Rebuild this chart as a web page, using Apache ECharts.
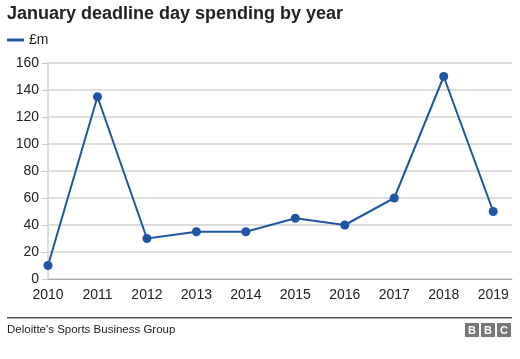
<!DOCTYPE html>
<html><head><meta charset="utf-8">
<script src="https://cdn.jsdelivr.net/npm/echarts@6/dist/echarts.min.js"></script>
<style>html,body{margin:0;padding:0;background:#fff}#c{width:520px;height:359px}</style>
</head><body><div id="c"></div>
<script>
const years = [2010, 2011, 2012, 2013, 2014, 2015, 2016, 2017, 2018, 2019];
const spending = [10, 135, 30, 35, 35, 45, 40, 60, 150, 50];
const yTicks = [0, 20, 40, 60, 80, 100, 120, 140, 160];
const seriesName = '£m';
const titleText = 'January deadline day spending by year';
const sourceText = "Deloitte's Sports Business Group";

const font = '"Liberation Sans", Arial, Helvetica, sans-serif';
const blue = '#1f55a5';
const chart = echarts.init(document.getElementById('c'));
chart.setOption({
  animation: false,
  textStyle: { fontFamily: font },
  title: { text: titleText, left: 7, top: 5, padding: 0,
    textStyle: { fontFamily: font, fontSize: 18, fontWeight: 'bold', color: '#222' } },
  legend: { data: [seriesName], left: 7, top: 33, padding: 0, itemWidth: 17, itemHeight: 3, itemGap: 6,
    icon: 'rect', textStyle: { fontFamily: font, fontSize: 14, color: '#222' } },
  grid: { left: 48, right: 8, top: 63, bottom: 80, containLabel: false },
  xAxis: { type: 'value', min: years[0], max: years[years.length - 1] + 0.38, interval: 1,
    axisLine: { show: true, lineStyle: { color: '#aaa', width: 1 } },
    axisTick: { show: false },
    splitLine: { show: false },
    axisLabel: { fontFamily: font, fontSize: 14, color: '#222', margin: 9, showMaxLabel: false,
      formatter: v => Number.isInteger(v) ? String(v) : '' } },
  yAxis: { type: 'value', min: yTicks[0], max: yTicks[yTicks.length - 1], interval: 20,
    axisLine: { show: true, lineStyle: { color: '#ddd', width: 2 } },
    axisTick: { show: true, length: 6, lineStyle: { color: '#ccc' } },
    splitLine: { show: true, lineStyle: { color: '#ddd', width: 2 } },
    axisLabel: { fontFamily: font, fontSize: 14, color: '#222', margin: 9 } },
  series: [{ name: seriesName, type: 'line', data: years.map((y, i) => [y, spending[i]]),
    symbol: 'circle', symbolSize: 9, color: blue,
    lineStyle: { color: blue, width: 2 }, itemStyle: { color: blue } }],
  graphic: [
    { type: 'rect', shape: { x: 7, y: 317, width: 505, height: 1.5 }, style: { fill: '#555' } },
    { type: 'text', left: 7, top: 324, style: { text: sourceText, font: '11.5px ' + font, fill: '#222' } },
    { type: 'rect', shape: { x: 465, y: 323, width: 14, height: 14 }, style: { fill: '#777' } },
    { type: 'rect', shape: { x: 481, y: 323, width: 14, height: 14 }, style: { fill: '#777' } },
    { type: 'rect', shape: { x: 497, y: 323, width: 14, height: 14 }, style: { fill: '#777' } },
    { type: 'text', x: 472, y: 330.5, style: { text: 'B', font: 'bold 11px ' + font, fill: '#fff', align: 'center', verticalAlign: 'middle' } },
    { type: 'text', x: 488, y: 330.5, style: { text: 'B', font: 'bold 11px ' + font, fill: '#fff', align: 'center', verticalAlign: 'middle' } },
    { type: 'text', x: 504, y: 330.5, style: { text: 'C', font: 'bold 11px ' + font, fill: '#fff', align: 'center', verticalAlign: 'middle' } }
  ]
});
</script></body></html>
